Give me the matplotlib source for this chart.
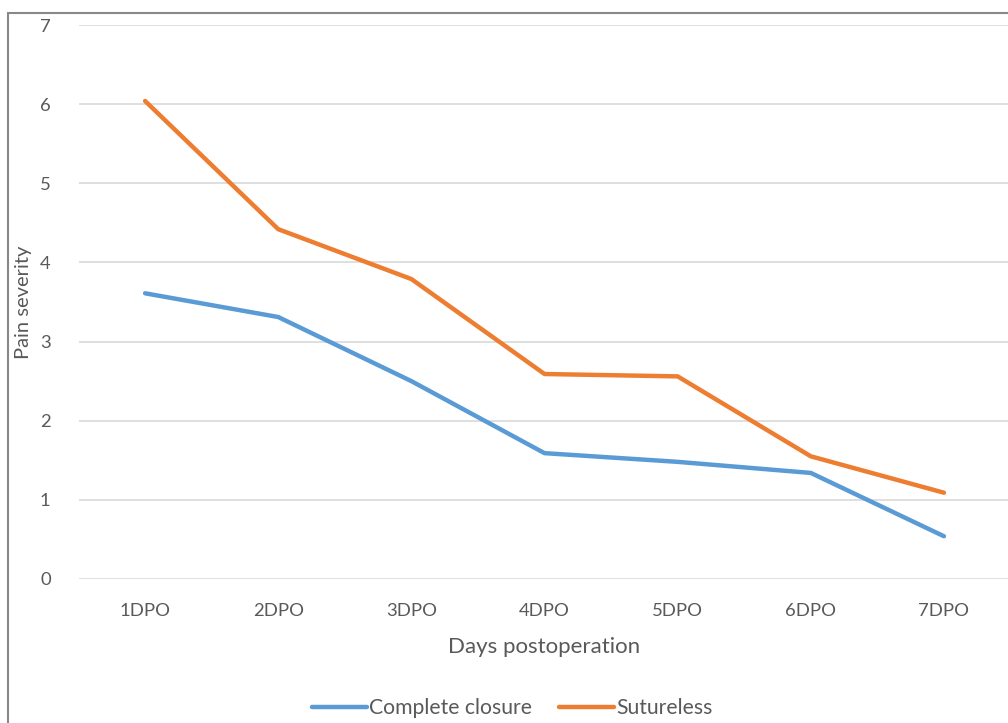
import matplotlib

matplotlib.use("Agg")
import matplotlib.pyplot as plt
from matplotlib.patches import Rectangle

plt.rcParams["font.family"] = ["Lato", "DejaVu Sans"]

# valores
dias = ["1DPO", "2DPO", "3DPO", "4DPO", "5DPO", "6DPO", "7DPO"]
cierre_completo = [3.61, 3.31, 2.50, 1.59, 1.48, 1.34, 0.54]
sin_sutura = [6.04, 4.42, 3.79, 2.59, 2.56, 1.55, 1.09]

GRIS = "#595959"

fig = plt.figure(figsize=(10.08, 7.23), dpi=100)
ax = fig.add_axes([0.0779, 0.1992, 0.9246, 0.7662])

x = range(len(dias))
ax.plot(x, cierre_completo, color="#5B9BD5", lw=3.2, solid_capstyle="round", label="Complete closure")
ax.plot(x, sin_sutura, color="#ED7D31", lw=3.2, solid_capstyle="round", label="Sutureless")

ax.set_xlim(-0.5, len(dias) - 0.5)
ax.set_ylim(0, 7)
ax.set_yticks(range(0, 8))
ax.set_xticks(list(x))
ax.set_xticklabels(dias)
ax.grid(axis="y", color="#D9D9D9", lw=1.2)
ax.set_axisbelow(True)
for s in ax.spines.values():
    s.set_visible(False)
ax.tick_params(length=0, colors=GRIS, labelsize=13.3)
ax.tick_params(axis="y", pad=20)
ax.tick_params(axis="x", pad=17)

ax.set_xlabel("Days postoperation", color=GRIS, fontsize=16, labelpad=13)
ax.set_ylabel("Pain severity", color=GRIS, fontsize=14.5, labelpad=6)

fig.legend(loc="lower center", bbox_to_anchor=(0.508, -0.02), ncol=2, frameon=False,
           fontsize=15.2, labelcolor=GRIS, handlelength=2.6, handletextpad=0.1, columnspacing=1.3)

# borde del area del grafico
fig.patches.append(Rectangle((8 / 1008, -0.1), 1.2, 1 - 13 / 723 + 0.1, transform=fig.transFigure,
                             fill=False, edgecolor="#888888", lw=1.5))

fig.savefig("out.png", dpi=100)
